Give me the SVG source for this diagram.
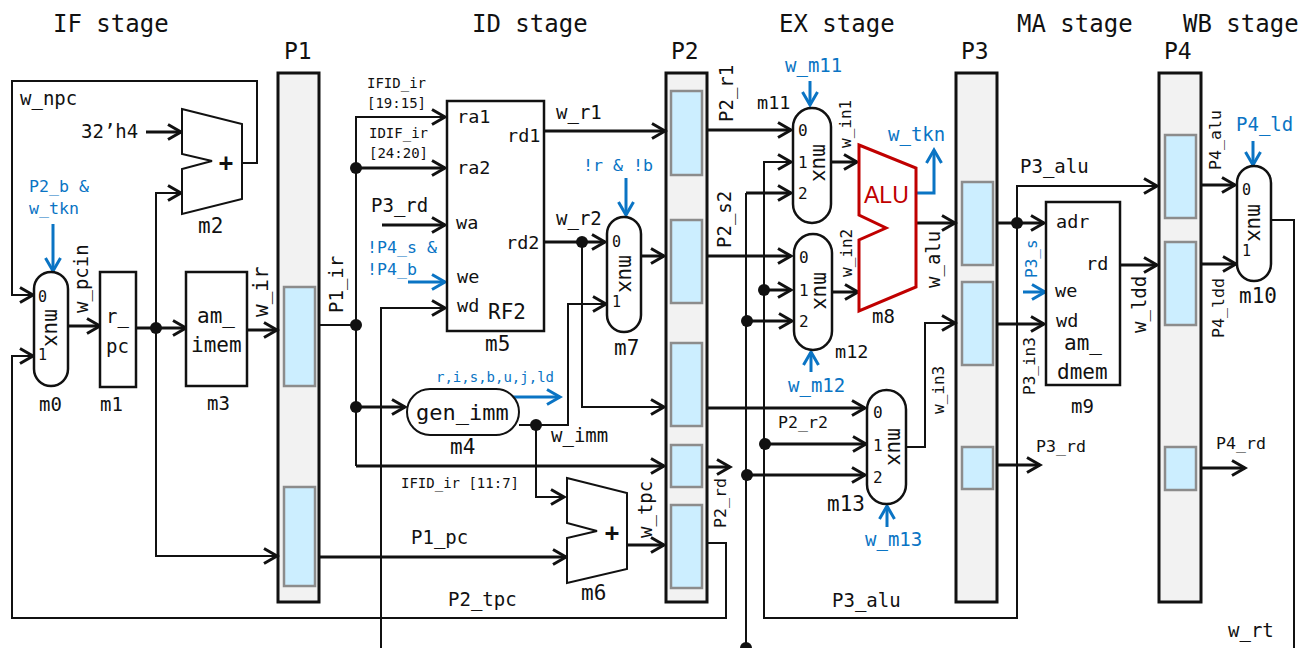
<svg xmlns="http://www.w3.org/2000/svg" width="1302" height="648" viewBox="0 0 1302 648">
<style>
text{font-family:"DejaVu Sans Mono","Liberation Mono",monospace;fill:#111}
.t14{font-size:14px}.t15{font-size:15px}.t16{font-size:16px}.t17{font-size:16.6px}.t18{font-size:18.5px}.t19{font-size:19px}.t21{font-size:21px}.t22{font-size:22px}.t23{font-size:23px}.t24{font-size:24px}
.blue{fill:#0a74c4}
.alu{font-family:"Liberation Sans",Arial,sans-serif;fill:#c00000;font-size:23px}
.plus{font-weight:bold;font-size:24px;text-anchor:middle}
.pipe{fill:#f2f2f2;stroke:#111;stroke-width:3}
.slot{fill:#cceeff;stroke:#8c8c8c;stroke-width:2.5}
.box{fill:#fff;stroke:#111;stroke-width:2.5}
.add{fill:#fff;stroke:#111;stroke-width:2;stroke-linejoin:miter}
.w{fill:none;stroke:#111;stroke-width:3}
.n{fill:none;stroke:#111;stroke-width:2}
.a{marker-end:url(#ah)}
.b{fill:none;stroke:#0a74c4;stroke-width:3;marker-end:url(#bh)}
.d{fill:#111}
</style>
<defs>
<marker id="ah" markerUnits="userSpaceOnUse" markerWidth="20" markerHeight="24" refX="15" refY="10" orient="auto"><path d="M2,2.5 L15,10 L2,17.5" fill="none" stroke="#111" stroke-width="3"/></marker>
<marker id="bh" markerUnits="userSpaceOnUse" markerWidth="20" markerHeight="24" refX="15" refY="10" orient="auto"><path d="M2,2.5 L15,10 L2,17.5" fill="none" stroke="#0a74c4" stroke-width="3"/></marker>
</defs>

<g id="titles">
<text class="t24" x="53" y="32">IF stage</text>
<text class="t24" x="472" y="32">ID stage</text>
<text class="t24" x="779" y="32">EX stage</text>
<text class="t24" x="1017" y="32">MA stage</text>
<text class="t24" x="1183" y="32">WB stage</text>
</g>

<g id="P1">
<text class="t23" x="284" y="59">P1</text>
<rect class="pipe" x="278" y="73" width="41" height="529"/>
<rect class="slot" x="284" y="287" width="31" height="99"/>
<rect class="slot" x="284" y="487" width="31" height="99"/>
</g>
<g id="P2">
<text class="t23" x="671" y="59">P2</text>
<rect class="pipe" x="666" y="73" width="41" height="529"/>
<rect class="slot" x="671" y="91" width="31" height="84"/>
<rect class="slot" x="671" y="220" width="31" height="83"/>
<rect class="slot" x="671" y="343" width="31" height="83"/>
<rect class="slot" x="671" y="445" width="31" height="42"/>
<rect class="slot" x="671" y="505" width="31" height="83"/>
</g>
<g id="P3">
<text class="t23" x="961" y="59">P3</text>
<rect class="pipe" x="956" y="73" width="41" height="529"/>
<rect class="slot" x="962" y="182" width="31" height="83"/>
<rect class="slot" x="962" y="282" width="31" height="83"/>
<rect class="slot" x="962" y="447" width="31" height="42"/>
</g>
<g id="P4">
<text class="t23" x="1164" y="59">P4</text>
<rect class="pipe" x="1159" y="73" width="42" height="529"/>
<rect class="slot" x="1165" y="135" width="31" height="83"/>
<rect class="slot" x="1165" y="242" width="31" height="83"/>
<rect class="slot" x="1165" y="447" width="31" height="43"/>
</g>

<g id="connectors">
<path class="n a" d="M242,163 H257 V81 H12 V295 H33"/>
<path class="n a" d="M707,543 H726 V618 H12 V356 H33"/>
<path class="w a" d="M68,326 H100"/>
<path class="w" d="M136,328 H156"/>
<path class="w a" d="M156,328 H186"/>
<path class="w a" d="M247,330 H277"/>
<path class="n a" d="M156,328 V193 H181"/>
<path class="n a" d="M156,328 V556 H277"/>
<path class="w a" d="M146,132 H181"/>
<path class="n" d="M319,325 H356"/>
<path class="n a" d="M356,466 V117 H445"/>
<path class="w a" d="M356,168 H445"/>
<path class="w a" d="M356,407 H405"/>
<path class="w a" d="M356,466 H664"/>
<path class="n a" d="M381,648 V308 H445"/>
<path class="w a" d="M382,225 H445"/>
<path class="w a" d="M544,131 H665"/>
<path class="w a" d="M544,242 H605"/>
<path class="n a" d="M582,242 V407 H664"/>
<path class="w a" d="M641,256 H664"/>
<path class="n a" d="M519,425 H568 V304 H606"/>
<path class="n a" d="M536,425 V497 H564"/>
<path class="w a" d="M319,557 H566"/>
<path class="w a" d="M627,545 H664"/>
<path class="w a" d="M707,467 H730"/>
<path class="w a" d="M707,130 H791"/>
<path class="w a" d="M707,256 H791"/>
<path class="n a" d="M1017,223 V618 H764 V162 H791"/>
<path class="n" d="M746,648 V193"/>
<path class="w a" d="M746,193 H791"/>
<path class="w a" d="M764,290 H791"/>
<path class="w a" d="M746,321 H792"/>
<path class="w a" d="M831,162 H857"/>
<path class="w a" d="M832,292 H858"/>
<path class="w a" d="M916,223 H955"/>
<path class="w" d="M997,223 H1017"/>
<path class="w a" d="M1017,223 H1044"/>
<path class="n a" d="M1017,223 V186 H1157"/>
<path class="w a" d="M997,324 H1044"/>
<path class="w a" d="M997,465 H1040"/>
<path class="w a" d="M707,408 H865"/>
<path class="w a" d="M764,444 H866"/>
<path class="w a" d="M746,475 H865"/>
<path class="n a" d="M906,447 H925 V323 H955"/>
<path class="w a" d="M1120,265 H1157"/>
<path class="w a" d="M1201,185 H1235"/>
<path class="w a" d="M1201,264 H1236"/>
<path class="n" d="M1271,220 H1294 V648"/>
<path class="w a" d="M1201,468 H1245"/>
<path class="b" d="M53,224 V271"/>
<path class="b" d="M408,282 H445"/>
<path class="b" d="M626,178 V215"/>
<path class="b" d="M513,397 H560"/>
<path class="b" d="M810,81 V105"/>
<path class="b" d="M811,372 V352"/>
<path class="b" d="M887,527 V506"/>
<path class="b" d="M917,193 H934 V150"/>
<path class="b" d="M1023,292 H1045"/>
<path class="b" d="M1253,141 V165"/>
<g class="d">
<circle cx="156" cy="328" r="6"/><circle cx="356" cy="168" r="6"/><circle cx="356" cy="325" r="6"/><circle cx="356" cy="407" r="6"/>
<circle cx="582" cy="242" r="6"/><circle cx="536" cy="425" r="6"/>
<circle cx="764" cy="290" r="6"/><circle cx="747" cy="321" r="6"/><circle cx="765" cy="444" r="6"/><circle cx="747" cy="475" r="6"/><circle cx="746" cy="648" r="6"/>
<circle cx="1017" cy="223" r="6"/>
</g>
</g>

<g id="m0">
<rect class="box" x="34" y="272" width="34" height="114" rx="17"/>
<text class="t21" transform="translate(45,309) rotate(90)">mux</text>
<text class="t15" x="38" y="302">0</text><text class="t15" x="38" y="360">1</text>
<text class="t19" x="39" y="411">m0</text>
</g>
<g id="m1">
<rect class="box" x="100" y="272" width="36" height="115"/>
<text class="t19" x="106" y="323">r_</text><text class="t19" x="106" y="353">pc</text>
<text class="t19" x="100" y="411">m1</text>
</g>
<g id="m2">
<polygon class="add" points="182,109 242,124 242,199 182,214 182,169 212,161 182,154"/>
<text class="plus" x="226" y="171">+</text>
<text class="t21" x="198" y="233">m2</text>
</g>
<g id="m3">
<rect class="box" x="186" y="272" width="61" height="114"/>
<text class="t21" x="197" y="323">am_</text><text class="t21" x="191" y="352">imem</text>
<text class="t19" x="207" y="410">m3</text>
</g>
<g id="m4">
<rect class="n" style="fill:#fff" x="407" y="389" width="112" height="46" rx="23"/>
<text class="t22" x="416" y="420">gen_imm</text>
<text class="t21" x="450" y="454">m4</text>
</g>
<g id="m5">
<rect class="box" x="447" y="101" width="97" height="230"/>
<text class="t18" x="457" y="123">ra1</text><text class="t18" x="457" y="174">ra2</text>
<text class="t18" x="456" y="229">wa</text><text class="t18" x="457" y="283">we</text><text class="t18" x="457" y="312">wd</text>
<text class="t18" x="507" y="142">rd1</text><text class="t18" x="506" y="249">rd2</text>
<text class="t21" x="488" y="319">RF2</text>
<text class="t21" x="485" y="351">m5</text>
</g>
<g id="m6">
<polygon class="add" points="567,478 627,493 627,569 567,583 567,538 597,531 567,523"/>
<text class="plus" x="612" y="541">+</text>
<text class="t21" x="581" y="600">m6</text>
</g>
<g id="m7">
<rect class="box" x="607" y="217" width="34" height="115" rx="17"/>
<text class="t21" transform="translate(619,255) rotate(90)">mux</text>
<text class="t15" x="612" y="247">0</text><text class="t15" x="612" y="307">1</text>
<text class="t21" x="614" y="355">m7</text>
</g>
<g id="m8">
<polygon points="859,145 916,168 916,287 859,311 859,240 886,228 859,215" fill="#fff" stroke="#c00000" stroke-width="3"/>
<text class="alu" x="864" y="203">ALU</text>
<text class="t19" x="872" y="323">m8</text>
</g>
<g id="m9">
<rect class="box" x="1046" y="202" width="74" height="183"/>
<text class="t18" x="1056" y="228">adr</text><text class="t18" x="1086" y="270">rd</text>
<text class="t18" x="1055" y="297">we</text><text class="t18" x="1056" y="327">wd</text>
<text class="t21" x="1064" y="350">am_</text><text class="t21" x="1057" y="379">dmem</text>
<text class="t19" x="1071" y="413">m9</text>
</g>
<g id="m10">
<rect class="box" x="1237" y="166" width="34" height="115" rx="17"/>
<text class="t21" transform="translate(1248,204) rotate(90)">mux</text>
<text class="t15" x="1242" y="195">0</text><text class="t15" x="1242" y="256">1</text>
<text class="t21" x="1239" y="303">m10</text>
</g>
<g id="m11">
<rect class="box" x="793" y="108" width="38" height="115" rx="19"/>
<text class="t21" transform="translate(813,144) rotate(90)">mux</text>
<text class="t16" x="798" y="136">0</text><text class="t16" x="798" y="168">1</text><text class="t16" x="798" y="199">2</text>
<text class="t18" x="757" y="109">m11</text>
</g>
<g id="m12">
<rect class="box" x="794" y="234" width="38" height="116" rx="19"/>
<text class="t21" transform="translate(814,272) rotate(90)">mux</text>
<text class="t16" x="799" y="263">0</text><text class="t16" x="799" y="296">1</text><text class="t16" x="799" y="327">2</text>
<text class="t18" x="835" y="358">m12</text>
</g>
<g id="m13">
<rect class="box" x="867" y="390" width="39" height="114" rx="19.5"/>
<text class="t21" transform="translate(888,428) rotate(90)">mux</text>
<text class="t16" x="873" y="418">0</text><text class="t16" x="873" y="451">1</text><text class="t16" x="873" y="483">2</text>
<text class="t21" x="827" y="511">m13</text>
</g>

<g id="labels">
<text class="t19" x="20" y="105">w_npc</text>
<text class="t19" x="81" y="138">32’h4</text>
<text class="t17 blue" x="29" y="192">P2_b &amp;</text>
<text class="t17 blue" x="29" y="214">w_tkn</text>
<text class="t19" transform="translate(88,313) rotate(-90)">w_pcin</text>
<text class="t21" transform="translate(268,317) rotate(-90)">w_ir</text>
<text class="t19" transform="translate(343,313) rotate(-90)">P1_ir</text>
<text class="t14" x="367" y="88">IFID_ir</text><text class="t14" x="367" y="108">[19:15]</text>
<text class="t14" x="369" y="138">IDIF_ir</text><text class="t14" x="369" y="158">[24:20]</text>
<text class="t19" x="371" y="212">P3_rd</text>
<text class="t17 blue" x="367" y="253">!P4_s &amp;</text><text class="t17 blue" x="367" y="275">!P4_b</text>
<text class="t19" x="556" y="119">w_r1</text><text class="t19" x="556" y="225">w_r2</text>
<text class="t17 blue" x="583" y="171">!r &amp; !b</text>
<text class="t14 blue" x="436" y="382">r,i,s,b,u,j,ld</text>
<text class="t19" x="551" y="442">w_imm</text>
<text class="t14" x="401" y="488">IFID_ir [11:7]</text>
<text class="t19" x="411" y="544">P1_pc</text>
<text class="t19" x="448" y="606">P2_tpc</text>
<text class="t19" transform="translate(652,538) rotate(-90)">w_tpc</text>
<text class="t17" transform="translate(726,528) rotate(-90)">P2_rd</text>
<text class="t19" transform="translate(733,122) rotate(-90)">P2_r1</text>
<text class="t19" transform="translate(731,248) rotate(-90)">P2_s2</text>
<text class="t19 blue" x="785" y="72">w_m11</text>
<text class="t19 blue" x="888" y="141">w_tkn</text>
<text class="t16" transform="translate(851,148) rotate(-90)">w_in1</text>
<text class="t16" transform="translate(852,277) rotate(-90)">w_in2</text>
<text class="t19" transform="translate(940,288) rotate(-90)">w_alu</text>
<text class="t19 blue" x="788" y="392">w_m12</text>
<text class="t17" x="778" y="428">P2_r2</text>
<text class="t16" transform="translate(944,414) rotate(-90)">w_in3</text>
<text class="t19 blue" x="865" y="546">w_m13</text>
<text class="t19" x="832" y="607">P3_alu</text>
<text class="t19" x="1020" y="173">P3_alu</text>
<text class="t16 blue" transform="translate(1037,278) rotate(-90)">P3_s</text>
<text class="t16" transform="translate(1035,395) rotate(-90)">P3_in3</text>
<text class="t19" transform="translate(1146,333) rotate(-90)">w_ldd</text>
<text class="t17" x="1036" y="452">P3_rd</text>
<text class="t17" transform="translate(1221,170) rotate(-90)">P4_alu</text>
<text class="t17" transform="translate(1224,338) rotate(-90)">P4_ldd</text>
<text class="t19 blue" x="1236" y="131">P4_ld</text>
<text class="t17" x="1216" y="449">P4_rd</text>
<text class="t19" x="1228" y="637">w_rt</text>
</g>
</svg>
